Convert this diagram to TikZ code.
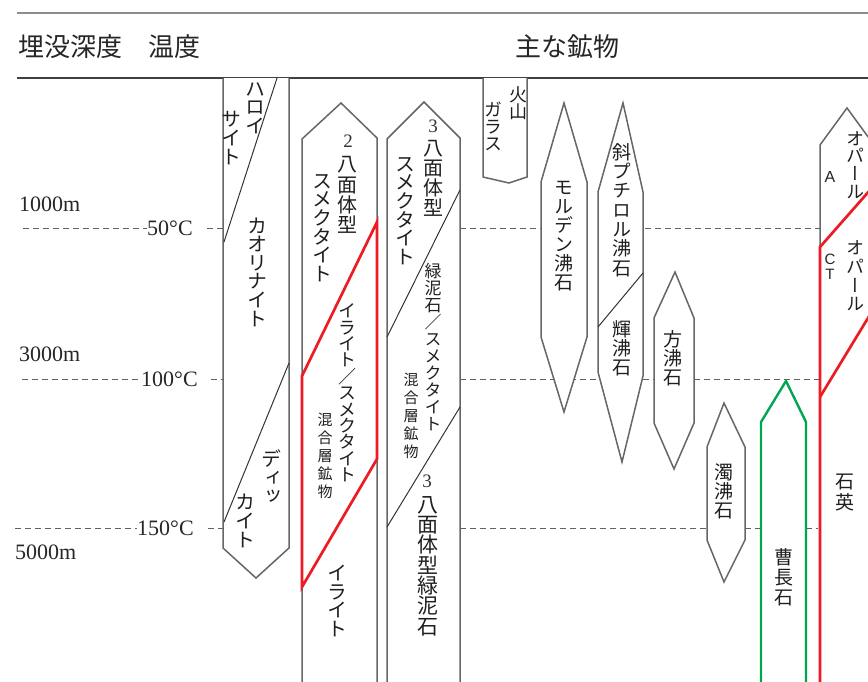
\documentclass[tikz,border=0pt]{standalone}
\usepackage{fontspec}
\setmainfont{Liberation Serif}
\newfontfamily\jp[RawFeature=+vert]{Noto Sans CJK JP}
\newfontfamily\jph{Noto Sans CJK JP}
\newfontfamily\lsans{Liberation Sans}
\definecolor{rd}{RGB}{237,28,36}
\definecolor{gr}{RGB}{0,166,81}
\begin{document}
\begin{tikzpicture}[x=1pt,y=-1pt,
  col/.style={draw=black!60, line width=1.5pt, fill=white, line join=miter},
  divl/.style={draw=black!80, line width=1pt},
  redl/.style={draw=rd, line width=2.7pt, line join=miter},
  grl/.style={draw=gr, line width=2.4pt, line join=miter},
  dashln/.style={draw=black!62, line width=1pt, dash pattern=on 6pt off 4pt},
  vt/.style 2 args={font=\jp\fontsize{#1}{#2}\selectfont, align=center, inner sep=0pt, text=black!88},
  hd/.style={font=\jph\fontsize{26}{26}\selectfont, inner sep=0pt, text=black!85},
  num/.style={font=\fontsize{22}{22}\selectfont, inner sep=0pt, anchor=west, text=black!85},
  dg/.style={font=\fontsize{19}{19}\selectfont, inner sep=0pt, text=black!80},
  lat/.style={font=\lsans\fontsize{16}{16}\selectfont, align=center, inner sep=0pt, text=black!85}]
\clip (0,0) rectangle (868,681);
\fill[white] (0,0) rectangle (868,681);
% header
\draw[draw=black!45, line width=2.2pt] (17,13) -- (880,13);
\draw[draw=black!75, line width=1.8pt] (17,78) -- (880,78);
\node[hd, anchor=west] (hdepth) at (18,47) {埋没深度};
\node[hd, anchor=west] (htemp) at (148,47) {温度};
\node[hd] (hmin) at (567,47) {主な鉱物};
% depth labels
\node[num] (d1) at (19,204) {1000m};
\node[num] (d3) at (19,354) {3000m};
\node[num] (d5) at (15,552) {5000m};
\node[num] (t50) at (147,228) {50°C};
\node[num] (t100) at (141,379) {100°C};
\node[num] (t150) at (137,528) {150°C};
% dashed lines
\draw[dashln] (23,228) -- (t50.west);
\draw[dashln] (207,228) -- (223,228);
\draw[dashln] (460,228) -- (541,228);
\draw[dashln] (645,228) -- (820,228);
\draw[dashln] (22,379) -- (t100.west);
\draw[dashln] (211,379) -- (223,379);
\draw[dashln] (460,379) -- (598,379);
\draw[dashln] (643,379) -- (654,379);
\draw[dashln] (694,379) -- (820,379);
\draw[dashln] (15,528) -- (t150.west);
\draw[dashln] (208,528) -- (223,528);
\draw[dashln] (460,528) -- (707,528);
\draw[dashln] (745,528) -- (761,528);
\draw[dashln] (806,528) -- (818,528);
% column 1: halloysite / kaolinite / dickite
\draw[col] (223,78) -- (223,548) -- (256,578) -- (289,548) -- (289,78);
\draw[divl] (277,78) -- (224,242);
\draw[divl] (289,363) -- (224,522);
% column 2
\draw[col] (302,690) -- (302,139) -- (341,103) -- (377,138) -- (377,690);
\draw[redl] (377,222) -- (302,376) -- (302,587) -- (377,459) -- cycle;
% column 3
\draw[col] (387,690) -- (387,139) -- (424,102) -- (460,138) -- (460,690);
\draw[divl] (460,190) -- (387,337);
\draw[divl] (460,407) -- (387,527);
% column 4 volcanic glass
\draw[col] (483,78) -- (483,177) -- (509,183) -- (527,177) -- (527,78);
% column 5 mordenite
\draw[col] (564,103) -- (587,182) -- (587,337) -- (564,412) -- (541,337) -- (541,182) -- cycle;
% column 6 clinoptilolite / heulandite
\draw[col] (623,103) -- (643,192) -- (643,376) -- (622,462) -- (598,372) -- (598,192) -- cycle;
\draw[divl] (643,273) -- (598,327);
% column 7 analcime
\draw[col] (675,272) -- (694,318) -- (694,423) -- (674,469) -- (654,423) -- (654,318) -- cycle;
% column 8 laumontite
\draw[col] (724,403) -- (745,447) -- (745,540) -- (724,582) -- (707,540) -- (707,447) -- cycle;
% column 9 albite
\draw[grl, fill=white] (761,690) -- (761,422) -- (786,381) -- (806,422) -- (806,690);
% column 10 opal / quartz
\draw[col] (820,690) -- (820,145) -- (847,108) -- (885,160);
\draw[redl] (885,173) -- (820,247) -- (820,690);
\draw[redl] (820,397) -- (885,290);
% texts
\node[vt={20}{18.6}] (hal1) at (255,108) {ハ\\ロ\\イ};
\node[vt={20}{18.6}] (hal2) at (231,138) {サ\\イ\\ト};
\node[vt={20}{18.6}] (kao) at (257,272) {カ\\オ\\リ\\ナ\\イ\\ト};
\node[vt={20}{18.6}] (dic1) at (271,477) {デ\\ィ\\ッ};
\node[vt={20}{18.6}] (dic2) at (245,521) {カ\\イ\\ト};
\node[dg] (n2) at (348,141) {2};
\node[vt={20}{20.3}] (dio) at (347,195) {八\\面\\体\\型};
\node[vt={20}{18.6}] (sm2) at (322,228) {ス\\メ\\ク\\タ\\イ\\ト};
\node[vt={18}{16.4}] (ism) at (347,393) {イ\\ラ\\イ\\ト\\／\\ス\\メ\\ク\\タ\\イ\\ト};
\node[vt={15}{18}] (mx2) at (325,456) {混\\合\\層\\鉱\\物};
\node[vt={20}{18.6}] (ill) at (337,601) {イ\\ラ\\イ\\ト};
\node[dg] (n3) at (433,126) {3};
\node[vt={20}{20}] (tri) at (433,178) {八\\面\\体\\型};
\node[vt={20}{18.6}] (sm3) at (405,211) {ス\\メ\\ク\\タ\\イ\\ト};
\node[vt={17}{17}] (csm) at (433,347) {緑\\泥\\石\\／\\ス\\メ\\ク\\タ\\イ\\ト};
\node[vt={15}{18}] (mx3) at (411,416) {混\\合\\層\\鉱\\物};
\node[dg] (n3b) at (427,481) {3};
\node[vt={21}{20.3}] (chl) at (428,566) {八\\面\\体\\型\\緑\\泥\\石};
\node[vt={18}{17}] (vg1) at (518,103) {火\\山};
\node[vt={18}{17}] (vg2) at (493,126) {ガ\\ラ\\ス};
\node[vt={19}{19}] (mor) at (564,236) {モ\\ル\\デ\\ン\\沸\\石};
\node[vt={19}{19.3}] (cli) at (622,210) {斜\\プ\\チ\\ロ\\ル\\沸\\石};
\node[vt={19}{19}] (heu) at (622,348) {輝\\沸\\石};
\node[vt={19}{19}] (ana) at (673,358) {方\\沸\\石};
\node[vt={19}{19}] (lau) at (724,491) {濁\\沸\\石};
\node[vt={19}{20}] (alb) at (784,577) {曹\\長\\石};
\node[vt={19}{21}] (qtz) at (845,493) {石\\英};
\node[lat] (opa) at (830,177) {A};
\node[lat, font=\lsans\fontsize{15}{15}\selectfont] (opct) at (830,267) {C\\T};
\node[vt={18}{17.7}] (op1) at (855,165) {オ\\パ\\ー\\ル};
\node[vt={18}{18.7}] (op2) at (855,276) {オ\\パ\\ー\\ル};
\end{tikzpicture}
\end{document}
